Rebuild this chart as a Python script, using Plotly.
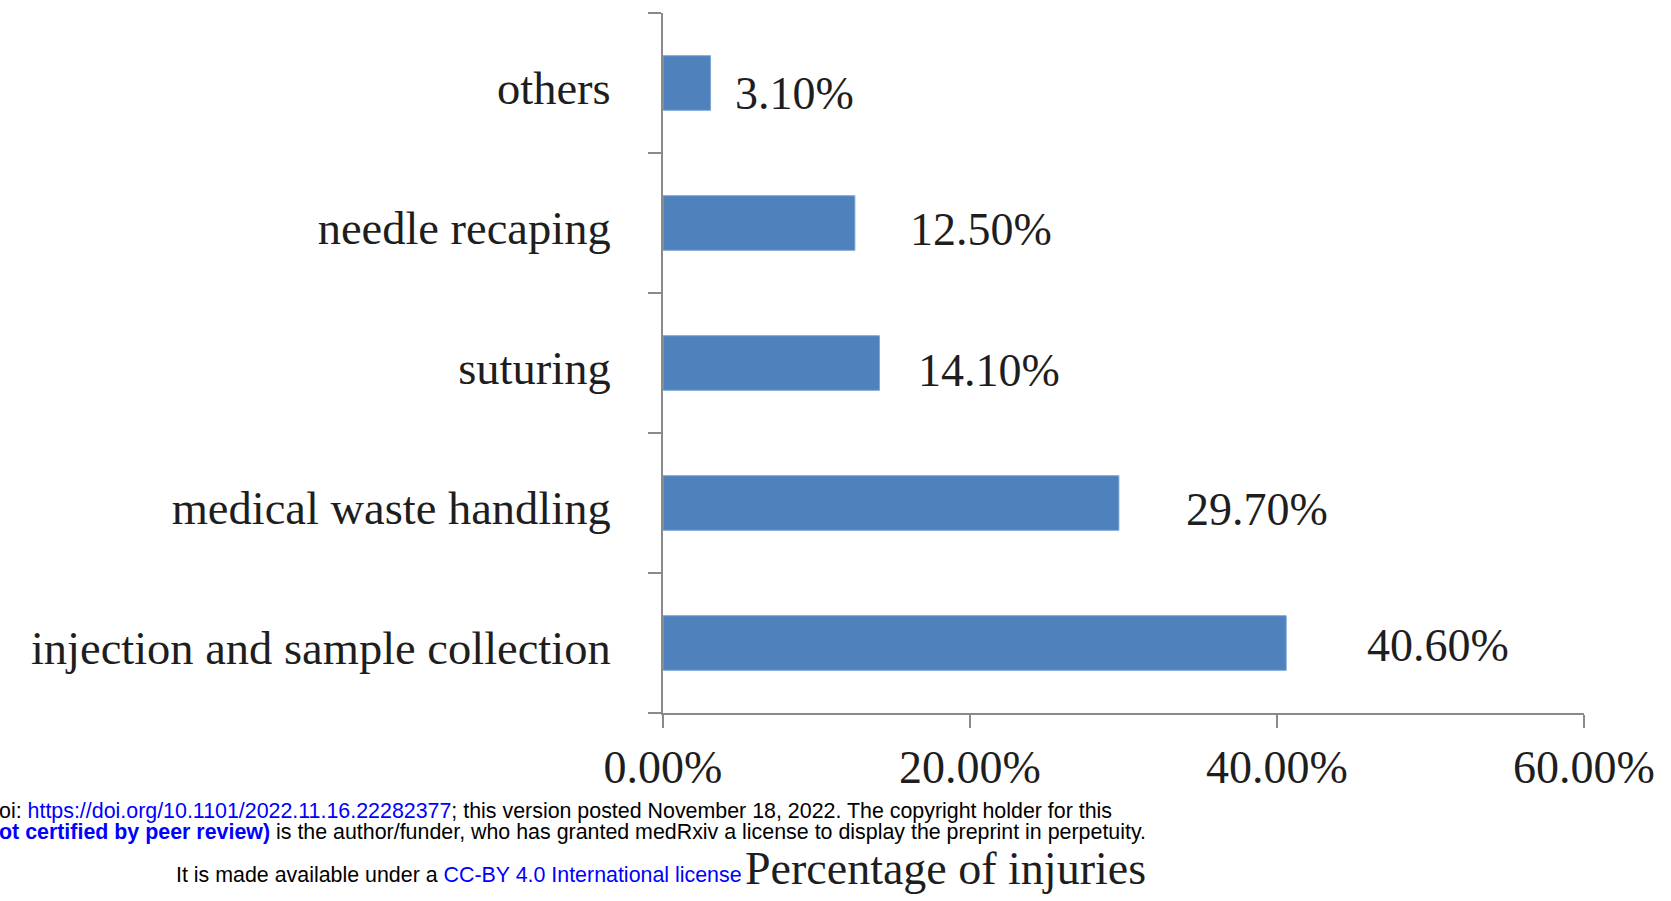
import plotly.graph_objects as go

# ---- data ----
categories = ["injection and sample collection", "medical waste handling",
              "suturing", "needle recaping", "others"]
values = [40.6, 29.7, 14.1, 12.5, 3.1]
value_labels = ["40.60%", "29.70%", "14.10%", "12.50%", "3.10%"]
x_tick_vals = [0, 20, 40, 60]
x_tick_text = ["0.00%", "20.00%", "40.00%", "60.00%"]
x_title = "Percentage of injuries"

# ---- layout geometry (pixels) ----
W, H = 1671, 901
L, R, T, B = 663, 87, 13, 188
PW, PH = W - L - R, H - T - B

def px(x):
    return (x - L) / PW

def py(y):
    return (H - B - y) / PH

label_xshift = [79, 65, 37, 53, 22]
label_yshift = [-2, -6, -7, -6, -10]

SERIF = "Liberation Serif, Times New Roman, serif"
SANS = "Liberation Sans, Arial, sans-serif"
TXT = "#1e1e1e"
AX = "#8a8a8a"

fig = go.Figure(go.Bar(
    x=values, y=categories, orientation="h",
    marker=dict(color="#4F81BD", line=dict(color="#7FA6D6", width=1)),
    hoverinfo="skip",
))

annotations = []
for v, c, t, dx, dy in zip(values, categories, value_labels, label_xshift, label_yshift):
    annotations.append(dict(x=v, y=c, xref="x", yref="y", text=t, showarrow=False,
                            xanchor="left", yanchor="middle", xshift=dx, yshift=dy,
                            font=dict(family=SERIF, size=46, color=TXT)))

annotations.append(dict(x=px(743), y=py(868), xref="paper", yref="paper", text=x_title,
                        showarrow=False, xanchor="left", yanchor="middle",
                        font=dict(family=SERIF, size=46, color=TXT)))

BLUE = "#0000FF"
footer = [
    (-3, 811, "oi: <span style='color:%s'>https://doi.org/10.1101/2022.11.16.22282377</span>; "
              "this version posted November 18, 2022. The copyright holder for this" % BLUE),
    (-3, 832, "<span style='color:%s'><b>ot certified by peer review)</b></span> is the author/funder, "
              "who has granted medRxiv a license to display the preprint in perpetuity." % BLUE),
    (174, 875, "It is made available under a <span style='color:%s'>CC-BY 4.0 International license</span>" % BLUE),
]
for x0, y0, t in footer:
    annotations.append(dict(x=px(x0), y=py(y0), xref="paper", yref="paper", text=t,
                            showarrow=False, xanchor="left", yanchor="middle",
                            font=dict(family=SANS, size=21.4, color="#000000")))

fig.update_layout(
    width=W, height=H,
    margin=dict(l=L, r=R, t=T, b=B, autoexpand=False),
    paper_bgcolor="white", plot_bgcolor="white",
    showlegend=False,
    bargap=0.61,
    annotations=annotations,
    xaxis=dict(range=[0, 60], tickmode="array", tickvals=x_tick_vals, ticktext=x_tick_text,
               showgrid=False, zeroline=False, showline=True, linecolor=AX, linewidth=2,
               ticks="outside", ticklen=13, tickwidth=2, tickcolor=AX,
               tickfont=dict(family=SERIF, size=46, color=TXT), ticklabelstandoff=0,
               fixedrange=True),
    yaxis=dict(categoryorder="array", categoryarray=categories,
               showgrid=False, zeroline=False, showline=True, linecolor=AX, linewidth=2,
               ticks="outside", ticklen=13, tickwidth=2, tickcolor=AX, tickson="boundaries",
               tickfont=dict(family=SERIF, size=46.5, color=TXT), ticklabelstandoff=41,
               ticklabelshift=5, fixedrange=True),
)

fig.write_html("out.html", config={"displayModeBar": False},
               post_script="document.body.style.margin='0px';document.body.style.overflow='hidden';")
